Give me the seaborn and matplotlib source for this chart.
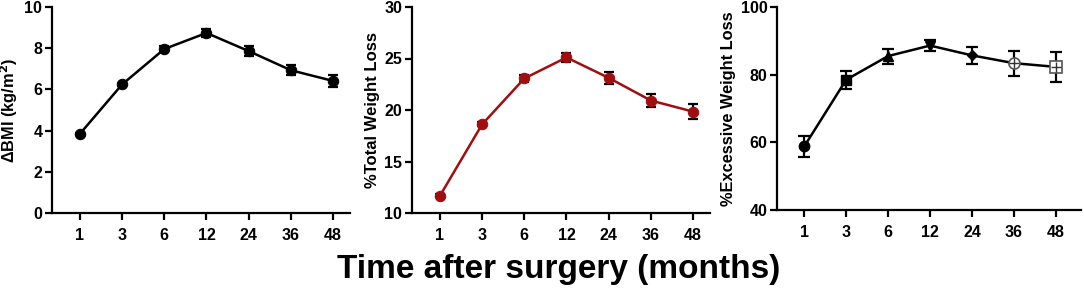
import numpy as np
import pandas as pd
import seaborn as sns
import matplotlib.pyplot as plt

# data
months = ["1", "3", "6", "12", "24", "36", "48"]
bmi = [3.84, 6.24, 7.96, 8.74, 7.86, 6.93, 6.41]
bmi_err = [0.06, 0.08, 0.13, 0.19, 0.23, 0.25, 0.27]
twl = [11.66, 18.6, 23.06, 25.1, 23.12, 20.92, 19.84]
twl_err = [0.15, 0.2, 0.3, 0.45, 0.6, 0.65, 0.75]
ewl = [58.8, 78.5, 85.5, 88.6, 85.7, 83.4, 82.3]
ewl_err = [3.2, 2.6, 2.2, 1.7, 2.6, 3.7, 4.4]

sns.set_theme(style="ticks")
plt.rcParams['font.family'] = ['Liberation Sans', 'DejaVu Sans']
plt.rcParams['font.weight'] = 'bold'
plt.rcParams['text.color'] = 'black'
plt.rcParams['axes.labelcolor'] = 'black'

fig = plt.figure(figsize=(10.84, 2.88), dpi=100)
W, H = 1084, 288


def make_ax(left, right, top, bottom):
    return fig.add_axes([left / W, (H - bottom) / H, (right - left) / W, (bottom - top) / H])


ax1 = make_ax(52, 350, 7, 213)
ax2 = make_ax(412, 710, 7, 213)
ax3 = make_ax(777, 1081, 7, 210)

x = np.arange(len(months))
df = pd.DataFrame({"x": x, "bmi": bmi, "twl": twl, "ewl": ewl})

red = "#a00e10"

# panel 1
ax1.errorbar(x, bmi, yerr=bmi_err, fmt="none", ecolor="black", elinewidth=1.6, capsize=3.5, capthick=1.6, zorder=3)
sns.lineplot(data=df, x="x", y="bmi", ax=ax1, color="black", lw=1.8, marker="o", markersize=7.5,
             markeredgecolor="black", zorder=4)
ax1.set_ylim(0, 10)
ax1.set_yticks([0, 2, 4, 6, 8, 10])
ax1.set_ylabel("ΔBMI (kg/m$^\\mathbf{2}$)", fontsize=11.8, fontweight="bold", labelpad=3)
ax1.set_xlim(-0.66, 6.4)

# panel 2
ax2.errorbar(x, twl, yerr=twl_err, fmt="none", ecolor="black", elinewidth=1.6, capsize=3.5, capthick=1.6, zorder=3)
sns.lineplot(data=df, x="x", y="twl", ax=ax2, color=red, lw=1.8, marker="o", markersize=7.5,
             markeredgecolor=red, zorder=4)
ax2.set_ylim(10, 30)
ax2.set_yticks([10, 15, 20, 25, 30])
ax2.set_ylabel("%Total Weight Loss", fontsize=12, fontweight="bold", labelpad=3)
ax2.set_xlim(-0.66, 6.4)

# panel 3
ax3.errorbar(x, ewl, yerr=ewl_err, fmt="none", ecolor="black", elinewidth=1.6, capsize=4, capthick=1.6, zorder=3)
sns.lineplot(data=df, x="x", y="ewl", ax=ax3, color="black", lw=1.8, zorder=4)
mk = ["o", "s", "^", "v", "D", "o", "s"]
filled = [True, True, True, True, True, False, False]
for i in range(len(months)):
    if filled[i]:
        ax3.plot(x[i], ewl[i], marker=mk[i], ms=7.5 if mk[i] != "D" else 5, color="black", zorder=5)
    else:
        ax3.plot(x[i], ewl[i], marker=mk[i], ms=8, mfc="white", mec="#555555", mew=1.2, zorder=5)
        ax3.plot(x[i], ewl[i], marker="+", ms=7, color="#333333", mew=1.0, zorder=6)
ax3.set_ylim(40, 100)
ax3.set_yticks([40, 60, 80, 100])
ax3.set_ylabel("%Excessive Weight Loss", fontsize=11.8, fontweight="bold", labelpad=3)
ax3.set_xlim(-0.65, 6.6)

for ax in (ax1, ax2, ax3):
    sns.despine(ax=ax)
    ax.set_xticks(x)
    ax.set_xticklabels(months)
    ax.set_xlabel("")
    for s in ("left", "bottom"):
        ax.spines[s].set_linewidth(1.6)
        ax.spines[s].set_color("black")
    ax.tick_params(axis="both", width=1.6, length=5, labelsize=11.5, color="black", labelcolor="black")
    ax.tick_params(axis="y", pad=2)
    ax.tick_params(axis="x", pad=6)
    for lab in ax.get_xticklabels() + ax.get_yticklabels():
        lab.set_fontweight("bold")

fig.text(559 / W, 1 - 278 / H, "Time after surgery (months)", ha="center", va="baseline",
         fontsize=24, fontweight="bold")

fig.savefig("out.png", dpi=100)
